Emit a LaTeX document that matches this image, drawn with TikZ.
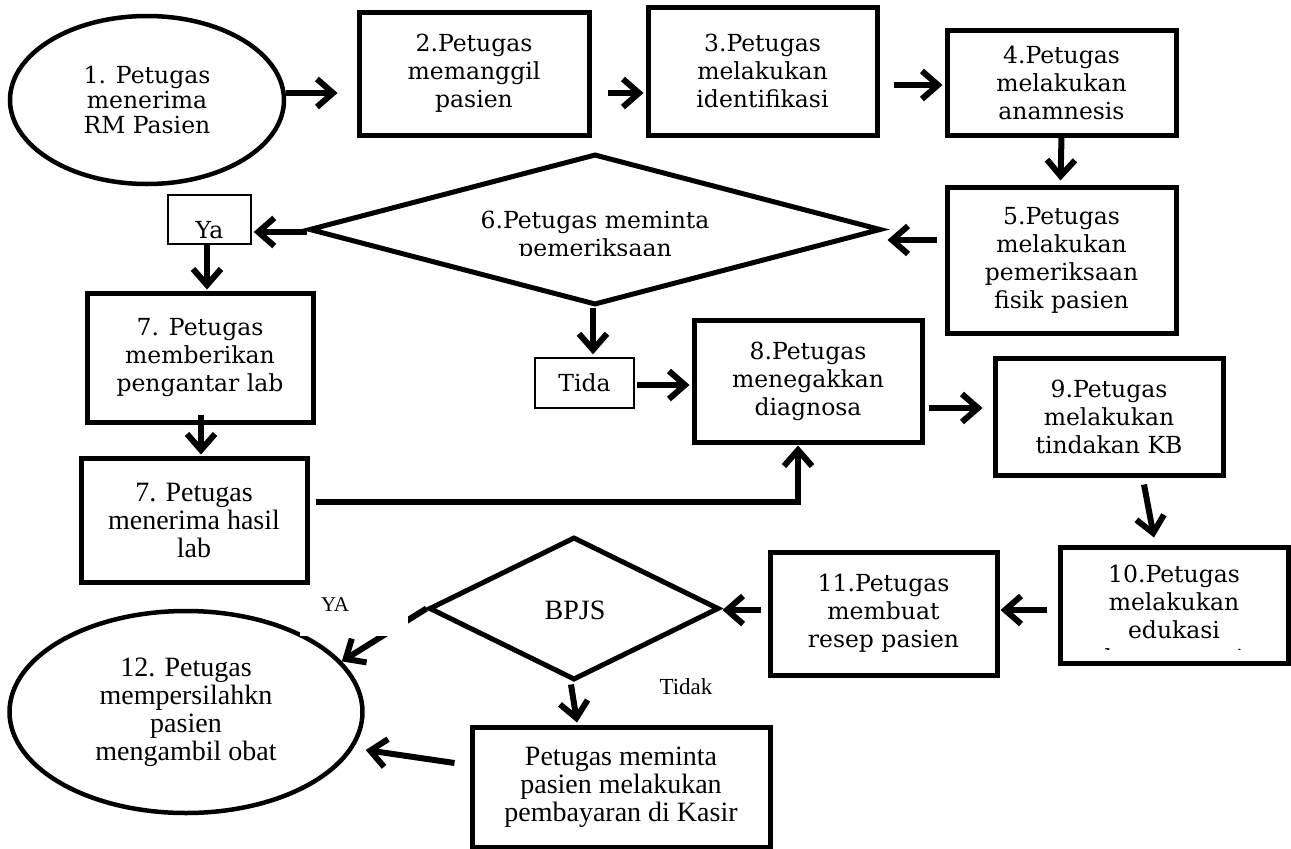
\documentclass[tikz,border=0pt]{standalone}
\usepackage{fontspec}
\setmainfont{DejaVu Serif}
\newfontfamily\narrowserif{Liberation Serif}
\usetikzlibrary{arrows.meta,shapes.geometric,calc}
\newcommand\bkfont{\fontsize{23.5}{28}\selectfont}
\newcommand\nrfont{\narrowserif\fontsize{28}{28}\selectfont}

\begin{document}
\begin{tikzpicture}[x=1pt,y=-1pt,
  stepbox/.style={draw, line width=5pt, inner sep=0pt, align=center, font=\bkfont},
  narrowbox/.style={stepbox, font=\nrfont},
  oval/.style={draw, ellipse, line width=4.5pt, inner sep=0pt, align=center},
  choice/.style={draw, diamond, line width=5pt, inner sep=0pt},
  thinbox/.style={draw, line width=1.4pt, inner sep=0pt},
  flow/.style={line width=6pt, -{Straight Barb[length=16pt,width=28pt]}},
  tag/.style={inner sep=0pt, font=\narrowserif\fontsize{21}{21}\selectfont},
]
\fill[white] (0,0) rectangle (1291,849);
\useasboundingbox (0,0) rectangle (1291,849);

% ---- top row
\node[oval, minimum width=274, minimum height=168, font=\fontsize{23.5}{25}\selectfont]
  (e1) at (147,100) {1. Petugas\\menerima\\RM Pasien};
\node[stepbox, minimum width=230, minimum height=123] (b2) at (474,73.5)
  {2.Petugas\\memanggil\\pasien};
\node[stepbox, minimum width=229, minimum height=128] (b3) at (762.5,71)
  {3.Petugas\\melakukan\\identifikasi};
\node[stepbox, minimum width=229, minimum height=105] (b4) at (1061.5,82.5)
  {4.Petugas\\melakukan\\anamnesis};
\node[stepbox, minimum width=229, minimum height=146] (b5) at (1061.5,260)
  {5.Petugas\\melakukan\\pemeriksaan\\fisik pasien};

% ---- first decision
\node[choice, minimum width=572, minimum height=151] (d6) at (595,229.5) {};
\begin{scope}
  \clip (309,150) rectangle (881,255);
  \node[inner sep=0pt, align=center, font=\bkfont] (d6text) at (595,236)
    {6.Petugas meminta\\pemeriksaan};
\end{scope}
\node[thinbox, minimum width=83, minimum height=49] (ya) at (209.5,219.5) {};
\node[inner sep=0pt, font=\bkfont] (yatext) at (209.5,230) {Ya};
\node[thinbox, minimum width=99, minimum height=50, font=\bkfont] (tida) at (584.5,383) {Tida};

% ---- lab branch and diagnosis
\node[stepbox, minimum width=226, minimum height=129] (b7a) at (200,357.5)
  {7. Petugas\\memberikan\\pengantar lab};
\node[narrowbox, minimum width=226, minimum height=124] (b7b) at (194,520)
  {7. Petugas\\menerima hasil\\lab};
\node[stepbox, minimum width=228, minimum height=122] (b8) at (808,381)
  {8.Petugas\\menegakkan\\diagnosa};
\node[stepbox, minimum width=228, minimum height=117] (b9) at (1109,416.5)
  {9.Petugas\\melakukan\\tindakan KB};

% ---- education, prescription, payment
\node[stepbox, minimum width=228, minimum height=116] (b10) at (1174,605) {};
\begin{scope}
  \clip (1060,547) rectangle (1288,649);
  \node[inner sep=0pt, align=center, font=\bkfont] (b10text) at (1174,618)
    {10.Petugas\\melakukan\\edukasi\\kontrasepsi};
\end{scope}
\node[stepbox, minimum width=227, minimum height=123] (b11) at (883.5,613.5)
  {11.Petugas\\membuat\\resep pasien};
\node[choice, minimum width=290, minimum height=143] (bpjs) at (574,608.5) {};
\node[inner sep=0pt, font=\nrfont] (bpjstext) at (575,610) {BPJS};
\node[oval, minimum width=353, minimum height=202, font=\nrfont] (e12) at (186,712)
  {12. Petugas\\mempersilahkn\\pasien\\mengambil obat};
\node[narrowbox, minimum width=298, minimum height=120] (kasir) at (621,787)
  {Petugas meminta\\pasien melakukan\\pembayaran di Kasir};

% ---- connectors
\draw[flow] ($(e1.east)+(0,-7)$) -- ($(b2.west)+(-19,19.5)$);
\draw[flow] ($(b2.east)+(16,19.5)$) -- ($(b3.west)+(-2,22)$);
\draw[flow] ($(b3.east)+(14,14)$) -- ($(b4.west)+(-2,2.5)$);
\draw[flow] (b4.south) -- ($(b5.north)+(-1,-4)$);
\draw[flow] ($(b5.west)+(-8,-20)$) -- ($(d6.east)+(4,10.5)$);
\draw[flow] ($(d6.west)+(0,2.5)$) -- ($(ya.east)+(2,12.5)$);
\draw[flow] ($(ya.south)+(-2.5,0)$) -- ($(b7a.north)+(7,-1)$);
\draw[flow] ($(d6.south)+(-2,0)$) -- ($(tida.north)+(8.5,-3)$);
\draw[flow] ($(tida.east)+(2,2)$) -- ($(b8.west)+(-2,4)$);
\draw[flow] ($(b7a.south)+(1,-10)$) -- ($(b7b.north)+(7,-1)$);
\draw[flow] ($(b7b.east)+(6,-18)$) -| ($(b8.south)+(-10,1)$);
\draw[flow] ($(b8.east)+(4,27)$) -- ($(b9.west)+(-10,-8.5)$);
\draw[flow] ($(b9.south)+(35,7)$) -- ($(b10.north)+(-20,-7)$);
\draw[flow] ($(b10.west)+(-11,5)$) -- ($(b11.east)+(1,-3.5)$);
\draw[flow] ($(b11.west)+(-7,-3.5)$) -- ($(bpjs.east)+(1,1.5)$);
\draw[flow] (bpjs.west) -- (e12.18);
\draw[flow] ($(bpjs.south)+(-3,2)$) -- ($(bpjs.south |- kasir.north)+(3,-2)$);
\draw[flow] ($(kasir.west)+(-15,-24)$) -- ($(e12.east)+(1,38)$);

% label patch of the YA answer
\fill[white] (300,590) rectangle (408,636);
\node[tag] (yalabel) at (335,605) {YA};
\node[tag, font=\narrowserif\fontsize{23}{23}\selectfont] (tidaklabel) at (686,687) {Tidak};
\end{tikzpicture}
\end{document}
